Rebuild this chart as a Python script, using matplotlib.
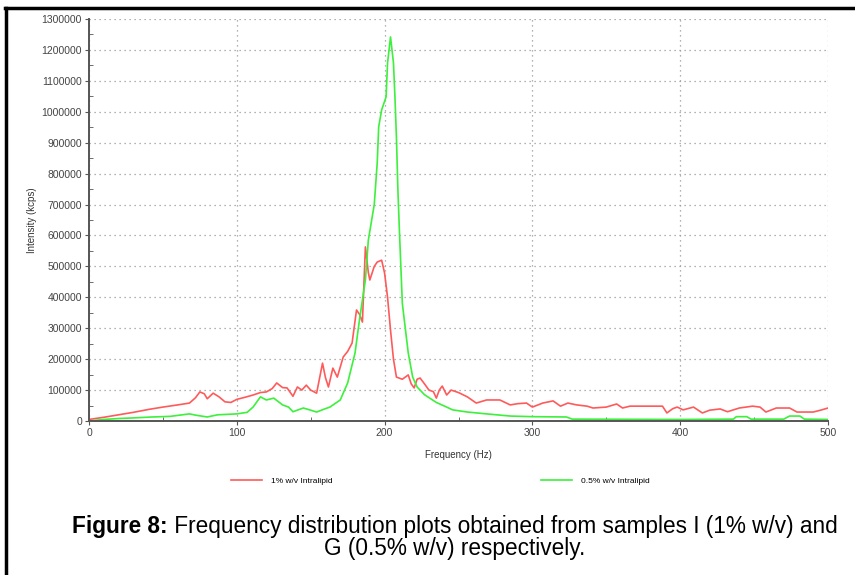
import numpy as np
import matplotlib
matplotlib.use("Agg")
import matplotlib.pyplot as plt
from matplotlib.lines import Line2D
from matplotlib.ticker import MultipleLocator, FormatStrFormatter

plt.rcParams['font.family'] = ['Liberation Sans', 'DejaVu Sans']

# 1% w/v Intralipid (sample I)
red_freq = [0, 10, 20, 30, 41, 50, 60, 68, 72, 75, 78, 80, 84, 88, 92, 96, 100, 105, 111, 116,
            120, 124, 127, 131, 134, 138, 141, 144, 147, 150, 154, 158, 160, 162, 165, 168, 172,
            175, 178, 181, 183, 185, 187, 189, 190, 193, 195, 198, 200, 202, 204, 206, 208, 212,
            216, 218, 220, 222, 224, 227, 230, 233, 235, 237, 239, 242, 245, 250, 256, 262, 269,
            278, 285, 290, 296, 300, 307, 314, 319, 324, 330, 337, 341, 350, 357, 361, 366, 388,
            391, 395, 398, 402, 409, 415, 420, 427, 432, 440, 449, 454, 458, 465, 474, 479, 490,
            495, 500]
red_int = [5000, 12000, 20000, 28000, 38000, 45000, 52000, 58000, 75000, 94000, 88000, 72000,
           90000, 78000, 62000, 60000, 70000, 76000, 84000, 92000, 94000, 105000, 123000, 108000,
           107000, 80000, 110000, 100000, 116000, 100000, 90000, 187000, 140000, 110000, 171000,
           142000, 207000, 225000, 252000, 359000, 345000, 320000, 563000, 480000, 456000, 500000,
           514000, 520000, 478000, 400000, 294000, 200000, 142000, 135000, 149000, 120000, 107000,
           135000, 139000, 120000, 100000, 95000, 74000, 100000, 113000, 84000, 100000, 92000,
           78000, 58000, 68000, 68000, 52000, 56000, 58000, 45000, 58000, 65000, 48000, 58000,
           52000, 48000, 42000, 45000, 55000, 42000, 48000, 48000, 26000, 40000, 45000, 36000,
           45000, 26000, 35000, 39000, 30000, 42000, 48000, 45000, 29000, 42000, 42000, 29000,
           29000, 35000, 42000]

# 0.5% w/v Intralipid (sample G)
green_freq = [0, 10, 20, 30, 43, 55, 68, 72, 80, 87, 100, 107, 111, 116, 120, 125, 131, 135, 138,
              145, 150, 154, 160, 163, 170, 175, 180, 183, 187, 189, 193, 195, 196, 198, 201, 202,
              204, 206, 207, 208, 209, 210, 212, 216, 219, 222, 227, 235, 242, 246, 256, 269, 285,
              300, 323, 327, 400, 436, 438, 445, 448, 470, 474, 481, 484, 500]
green_int = [0, 5000, 8000, 10000, 13000, 15000, 23000, 19000, 13000, 20000, 23000, 28000, 45000,
             78000, 68000, 74000, 52000, 45000, 30000, 42000, 35000, 29000, 40000, 45000, 68000,
             123000, 220000, 327000, 456000, 585000, 700000, 834000, 951000, 1006000, 1048000,
             1158000, 1242000, 1158000, 1048000, 918000, 747000, 618000, 380000, 220000, 142000,
             110000, 85000, 60000, 45000, 36000, 29000, 23000, 16000, 14000, 13000, 6000, 5000,
             6000, 14000, 14000, 6000, 6000, 16000, 16000, 6000, 5000]

fig = plt.figure(figsize=(8.55, 5.75), dpi=100)
ax = fig.add_axes([89 / 855, 1 - 421 / 575, 739 / 855, 402 / 575])

ax.plot(red_freq, red_int, color='#ff5a5a', lw=1.2, label='1% w/v Intralipid')
ax.plot(green_freq, green_int, color='#3cf03c', lw=1.2, label='0.5% w/v Intralipid')

ax.set_xlim(0, 500)
ax.set_ylim(0, 1300000)
ax.xaxis.set_major_locator(MultipleLocator(100))
ax.xaxis.set_minor_locator(MultipleLocator(50))
ax.yaxis.set_major_locator(MultipleLocator(100000))
ax.yaxis.set_minor_locator(MultipleLocator(50000))
ax.yaxis.set_major_formatter(FormatStrFormatter('%d'))
ax.grid(True, which='major', linestyle=(0, (1, 3)), color='#999999', lw=0.9)

for s in ['top', 'right']:
    ax.spines[s].set_visible(False)
for s in ['left', 'bottom']:
    ax.spines[s].set_color('#555555')
    ax.spines[s].set_linewidth(1.4)
ax.tick_params(which='major', direction='out', length=3, color='#555555',
               labelsize=7.5, labelcolor='#444444', pad=2)
ax.tick_params(which='minor', direction='in', length=3, color='#555555')

ax.set_xlabel('Frequency (Hz)', fontsize=7, color='#333333', labelpad=9)
ax.set_ylabel('Intensity (kcps)', fontsize=7, color='#333333', labelpad=3)

fig.legend(loc='center', bbox_to_anchor=(440 / 855, 1 - 481 / 575), ncol=2, frameon=False,
           fontsize=6, handlelength=3.8, handletextpad=1.0, columnspacing=25)

# caption, first line: bold part then normal part
fs = 16.3
r = fig.canvas.get_renderer()
t1 = fig.text(0, 0, 'Figure 8:', fontsize=fs, fontweight='bold')
t2 = fig.text(0, 0, ' Frequency distribution plots obtained from samples I (1% w/v) and',
              fontsize=fs)
w1 = t1.get_window_extent(r).width
w2 = t2.get_window_extent(r).width
x0 = 455 - (w1 + w2) / 2
y1 = 1 - 526 / 575
t1.set_position((x0 / 855, y1))
t1.set_va('center')
t2.set_position(((x0 + w1) / 855, y1))
t2.set_va('center')
fig.text(455 / 855, 1 - 549 / 575, 'G (0.5% w/v) respectively.', fontsize=fs,
         ha='center', va='center')

# black frame lines (top and left)
fig.add_artist(Line2D([5 / 855, 853 / 855], [1 - 8 / 575, 1 - 8 / 575], color='black', lw=2.5))
fig.add_artist(Line2D([6 / 855, 6 / 855], [1 - 8 / 575, 0], color='black', lw=2.5))

fig.savefig('out.png', dpi=100)
